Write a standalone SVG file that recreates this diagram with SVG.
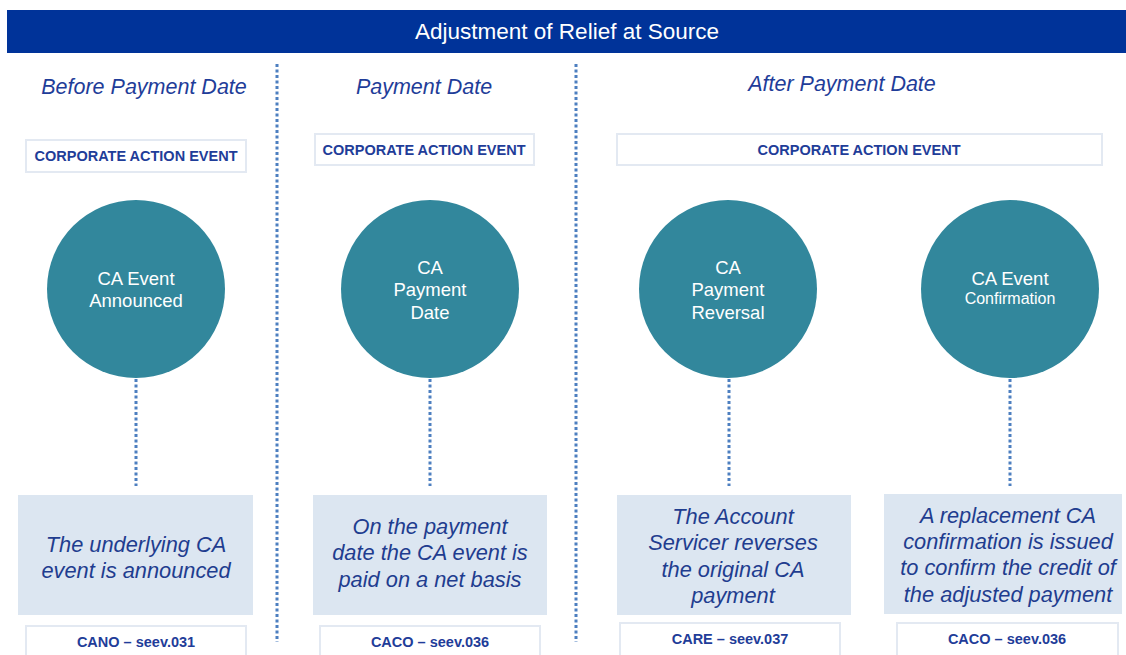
<svg xmlns="http://www.w3.org/2000/svg" width="1126" height="655" viewBox="0 0 1126 655">
<style>
.hdr{font-family:"Liberation Sans",Arial,sans-serif;font-size:22.5px;fill:#ffffff}
.sec{font-family:"Liberation Sans",Arial,sans-serif;font-size:21.5px;font-style:italic;fill:#1f3d99}
.tag{fill:#ffffff;stroke:#e3e9f2;stroke-width:2}
.tagt{font-family:"Liberation Sans",Arial,sans-serif;font-size:14.5px;font-weight:bold;fill:#1f3d99}
.circ{fill:#32879c}
.ct{font-family:"Liberation Sans",Arial,sans-serif;font-size:18.5px;fill:#ffffff}
.desc{fill:#dce6f1}
.dt{font-family:"Liberation Sans",Arial,sans-serif;font-size:21.8px;font-style:italic;fill:#1f3d8f}
.sep{stroke:#4d7fc0;stroke-width:3;stroke-dasharray:3 2.5;fill:none}
.con{stroke:#4d7fc0;stroke-width:3;stroke-dasharray:3 2.5;fill:none}
</style>
<rect width="1126" height="655" fill="#ffffff"/>
<g id="header">
<rect x="7" y="10" width="1119" height="43" fill="#003399"/>
<text class="hdr" x="567" y="39" text-anchor="middle">Adjustment of Relief at Source</text>
</g>
<g id="separators">
<line class="sep" x1="277" y1="64" x2="277" y2="642"/>
<line class="sep" x1="576" y1="64" x2="576" y2="642"/>
</g>
<g id="section-titles">
<text class="sec" x="144" y="94" text-anchor="middle">Before Payment Date</text>
<text class="sec" x="424" y="94" text-anchor="middle">Payment Date</text>
<text class="sec" x="842" y="91" text-anchor="middle">After Payment Date</text>
</g>
<g id="connectors">
<line class="con" x1="136" y1="379" x2="136" y2="486"/>
<line class="con" x1="430" y1="379" x2="430" y2="486"/>
<line class="con" x1="729" y1="379" x2="729" y2="486"/>
<line class="con" x1="1010" y1="379" x2="1010" y2="486"/>
</g>
<g id="cae1">
<rect class="tag" x="26" y="140" width="220" height="32"/>
<text class="tagt" x="136" y="161" text-anchor="middle">CORPORATE ACTION EVENT</text>
</g>
<g id="cae2">
<rect class="tag" x="315" y="134" width="219" height="31"/>
<text class="tagt" x="424" y="155" text-anchor="middle">CORPORATE ACTION EVENT</text>
</g>
<g id="cae3">
<rect class="tag" x="617" y="134" width="485" height="31"/>
<text class="tagt" x="859" y="155" text-anchor="middle">CORPORATE ACTION EVENT</text>
</g>
<g id="node-announced">
<circle class="circ" cx="136" cy="289" r="89"/>
<text class="ct" x="136" y="285" text-anchor="middle">CA Event</text>
<text class="ct" x="136" y="307" text-anchor="middle">Announced</text>
</g>
<g id="node-payment">
<circle class="circ" cx="430" cy="289" r="89"/>
<text class="ct" x="430" y="274" text-anchor="middle">CA</text>
<text class="ct" x="430" y="296" text-anchor="middle">Payment</text>
<text class="ct" x="430" y="319" text-anchor="middle">Date</text>
</g>
<g id="node-reversal">
<circle class="circ" cx="728" cy="289" r="89"/>
<text class="ct" x="728" y="274" text-anchor="middle">CA</text>
<text class="ct" x="728" y="296" text-anchor="middle">Payment</text>
<text class="ct" x="728" y="319" text-anchor="middle">Reversal</text>
</g>
<g id="node-confirmation">
<circle class="circ" cx="1010" cy="289" r="89"/>
<text class="ct" x="1010" y="285" text-anchor="middle">CA Event</text>
<text class="ct" x="1010" y="304" text-anchor="middle" style="font-size:16px">Confirmation</text>
</g>
<g id="desc1">
<rect class="desc" x="18" y="495" width="235" height="120"/>
<text class="dt" x="136" y="552" text-anchor="middle">The underlying CA</text>
<text class="dt" x="136" y="578" text-anchor="middle">event is announced</text>
</g>
<g id="desc2">
<rect class="desc" x="313" y="495" width="234" height="120"/>
<text class="dt" x="430" y="534" text-anchor="middle">On the payment</text>
<text class="dt" x="430" y="560" text-anchor="middle">date the CA event is</text>
<text class="dt" x="430" y="587" text-anchor="middle">paid on a net basis</text>
</g>
<g id="desc3">
<rect class="desc" x="617" y="495" width="234" height="120"/>
<text class="dt" x="733" y="524" text-anchor="middle">The Account</text>
<text class="dt" x="733" y="550" text-anchor="middle">Servicer reverses</text>
<text class="dt" x="733" y="577" text-anchor="middle">the original CA</text>
<text class="dt" x="733" y="603" text-anchor="middle">payment</text>
</g>
<g id="desc4">
<rect class="desc" x="884" y="494" width="238" height="120"/>
<text class="dt" x="1008" y="523" text-anchor="middle">A replacement CA</text>
<text class="dt" x="1008" y="549" text-anchor="middle">confirmation is issued</text>
<text class="dt" x="1008" y="575" text-anchor="middle">to confirm the credit of</text>
<text class="dt" x="1008" y="602" text-anchor="middle">the adjusted payment</text>
</g>
<g id="code1">
<rect class="tag" x="26" y="626" width="220" height="34"/>
<text class="tagt" x="136" y="647" text-anchor="middle">CANO – seev.031</text>
</g>
<g id="code2">
<rect class="tag" x="320" y="626" width="220" height="34"/>
<text class="tagt" x="430" y="647" text-anchor="middle">CACO – seev.036</text>
</g>
<g id="code3">
<rect class="tag" x="620" y="623" width="220" height="34"/>
<text class="tagt" x="730" y="644" text-anchor="middle">CARE – seev.037</text>
</g>
<g id="code4">
<rect class="tag" x="897" y="623" width="221" height="34"/>
<text class="tagt" x="1007" y="644" text-anchor="middle">CACO – seev.036</text>
</g>
</svg>
